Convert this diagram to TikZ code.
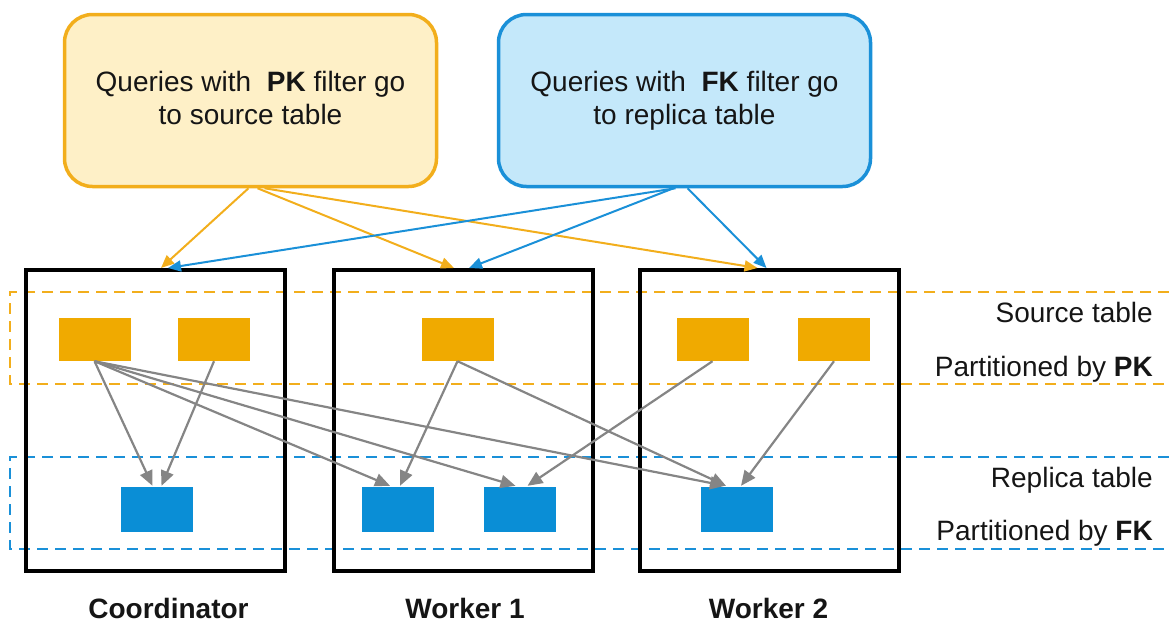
\documentclass[tikz,border=0pt]{standalone}
\usepackage{fontspec}
\setmainfont{Liberation Sans}
\usetikzlibrary{arrows.meta,calc}
\definecolor{orline}{HTML}{F2AE1C}
\definecolor{orfill}{HTML}{FEF0C7}
\definecolor{blline}{HTML}{1A90D8}
\definecolor{blfill}{HTML}{C4E8FA}
\definecolor{orpart}{HTML}{F0AA00}
\definecolor{blpart}{HTML}{0A8ED6}
\definecolor{grarrow}{HTML}{858585}
\definecolor{txt}{HTML}{151515}
\begin{document}
\begin{tikzpicture}[x=1pt,y=-1pt,
  querybox/.style={draw, line width=3.5pt, rounded corners=28pt, minimum width=372pt,
    minimum height=172pt, align=center, font=\fontsize{28}{33}\selectfont, text=txt, inner sep=0pt},
  worker/.style={draw=black, line width=4pt, minimum width=259pt, minimum height=301pt, inner sep=0pt},
  spart/.style={fill=orpart, minimum width=72pt, minimum height=43pt, inner sep=0pt},
  rpart/.style={fill=blpart, minimum width=72pt, minimum height=45pt, inner sep=0pt},
  lbl/.style={font=\fontsize{28}{33}\selectfont, text=txt, inner sep=0pt, anchor=base east},
  wlbl/.style={font=\fontsize{28}{33}\selectfont\bfseries, text=txt, inner sep=0pt, anchor=base},
  odash/.style={draw=orline, line width=2.5pt, dash pattern=on 11pt off 7pt},
  bdash/.style={draw=blline, line width=2.5pt, dash pattern=on 11pt off 7pt},
  oarrow/.style={draw=orline, line width=2pt, -{Triangle[length=13pt,width=11pt]}},
  barrow/.style={draw=blline, line width=2pt, -{Triangle[length=13pt,width=11pt]}},
  garrow/.style={draw=grarrow, line width=2.2pt, -{Triangle[length=15pt,width=13pt]}}
]
\useasboundingbox (0,0) rectangle (1169,622);

% dashed table bands
\draw[odash] (1169,292) -- (10,292) -- (10,384) -- (1169,384);
\draw[bdash] (1169,457) -- (10,457) -- (10,549) -- (1169,549);

% query boxes
\node[querybox, draw=orline, fill=orfill] (pkq) at (250.5,100.5)
  {Queries with \ \textbf{PK} filter go\\to source table\vphantom{p}};
\node[querybox, draw=blline, fill=blfill] (fkq) at (684.5,100.5)
  {Queries with \ \textbf{FK} filter go\\to replica table};

% worker boxes
\node[worker] (coord) at (155.5,420.5) {};
\node[worker] (w1) at (463,420.5) {};
\node[worker] (w2) at (769.5,420.5) {};

% partitions
\node[spart] (c1) at (94.5,339.5) {};
\node[spart] (c2) at (214,339.5) {};
\node[spart] (w1o) at (457.5,339.5) {};
\node[spart] (w2o1) at (712.5,339.5) {};
\node[spart] (w2o2) at (834,339.5) {};
\node[rpart] (cb) at (156.5,509.5) {};
\node[rpart] (w1b1) at (398,509.5) {};
\node[rpart] (w1b2) at (519.5,509.5) {};
\node[rpart] (w2b) at (737,509.5) {};

% labels
\node[lbl] (srcl) at (1153,322) {Source table};
\node[lbl] (pkl) at (1153,376) {Partitioned by \textbf{PK}};
\node[lbl] (repl) at (1153,487) {Replica table};
\node[lbl] (fkl) at (1153,540) {Partitioned by \textbf{FK}};
\node[wlbl] (coordl) at (168.5,618) {Coordinator};
\node[wlbl] (w1l) at (465,618) {Worker 1};
\node[wlbl] (w2l) at (768.5,618) {Worker 2};

% query routing arrows
\draw[oarrow] ([xshift=-2pt]pkq.south) -- ([xshift=5.5pt]coord.north);
\draw[oarrow] ([xshift=7pt]pkq.south) -- ([xshift=-9pt]w1.north);
\draw[oarrow] ([xshift=14pt]pkq.south) -- ([xshift=-12pt]w2.north);
\draw[barrow] ([xshift=-9pt]fkq.south) -- ([xshift=12.5pt]coord.north);
\draw[barrow] ([xshift=-11pt]fkq.south) -- ([xshift=6pt]w1.north);
\draw[barrow] ([xshift=3pt]fkq.south) -- ([xshift=-3pt]w2.north);

% repartitioning arrows
\draw[garrow] (c1.south) -- ([xshift=-4pt,yshift=1pt]cb.north);
\draw[garrow] (c1.south) -- ([xshift=-8pt,yshift=1pt]w1b1.north);
\draw[garrow] (c1.south) -- ([xshift=-4pt,yshift=1pt]w1b2.north);
\draw[garrow] (c1.south) -- ([xshift=-12pt,yshift=1pt]w2b.north);
\draw[garrow] (c2.south) -- ([xshift=5pt,yshift=1pt]cb.north);
\draw[garrow] (w1o.south) -- ([xshift=2pt,yshift=1pt]w1b1.north);
\draw[garrow] (w1o.south) -- ([xshift=-11pt,yshift=1pt]w2b.north);
\draw[garrow] (w2o1.south) -- ([xshift=8pt,yshift=1pt]w1b2.north);
\draw[garrow] (w2o2.south) -- ([xshift=4pt,yshift=1pt]w2b.north);
\end{tikzpicture}
\end{document}
